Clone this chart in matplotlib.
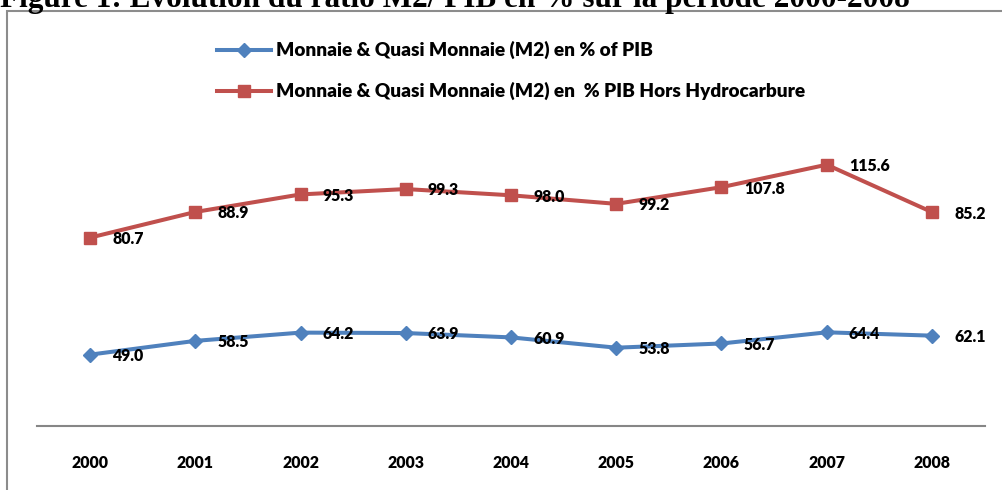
import matplotlib
matplotlib.use("Agg")
import matplotlib.pyplot as plt
import numpy as np
from matplotlib.patches import Rectangle

years = ["2000", "2001", "2002", "2003", "2004", "2005", "2006", "2007", "2008"]
m2_pib = [49.0, 58.5, 64.2, 63.9, 60.9, 53.8, 56.7, 64.4, 62.1]
m2_pib_hh = [80.7, 88.9, 95.3, 99.3, 98.0, 99.2, 107.8, 115.6, 85.2]

label_blue = "Monnaie & Quasi Monnaie (M2) en % of PIB"
label_red = "Monnaie & Quasi Monnaie (M2) en  % PIB Hors Hydrocarbure"
title = "Figure 1: Evolution du ratio M2/ PIB en % sur la période 2000-2008"

BLUE = "#4F81BD"
RED = "#C0504D"
W, H = 1003, 490

fig = plt.figure(figsize=(W / 100, H / 100), dpi=100)

# chart frame, cropped on the right and bottom like the source
fig.patches.append(Rectangle((7.5 / W, -0.2), 1.2, 1.2 - 11 / H, transform=fig.transFigure,
                             fill=False, edgecolor="#8c8c8c", linewidth=1.5, clip_on=False))

# title, mostly cut off at the top edge
fig.text(0.0, 1 - 7 / H, title, family="Liberation Serif", fontweight="bold",
         fontsize=22.5, va="baseline", ha="left")

ax = fig.add_axes([37.4 / W, (H - 425.7) / H, 947.2 / W, 290 / H])
x = np.arange(len(years))
# stacked line chart: the red series sits on top of the blue one
stacked = np.array(m2_pib) + np.array(m2_pib_hh)

ax.plot(x, m2_pib, color=BLUE, lw=2.9, marker="D", ms=7, label=label_blue)
ax.plot(x, stacked, color=RED, lw=2.9, marker="s", ms=8.4, label=label_red)

lab_font = {"family": "Lato", "fontweight": "heavy", "fontsize": 11.4}
for xi, yi, v in zip(x, m2_pib, m2_pib):
    ax.annotate(f"{v:.1f}", (xi, yi), xytext=(16, -1), textcoords="offset points",
                ha="left", va="center", **lab_font)
for xi, yi, v in zip(x, stacked, m2_pib_hh):
    ax.annotate(f"{v:.1f}", (xi, yi), xytext=(16, -1), textcoords="offset points",
                ha="left", va="center", **lab_font)

ax.set_xlim(-0.5, len(years) - 0.5)
ax.set_ylim(0, 200)
ax.set_xticks(x)
ax.set_xticklabels(years, **lab_font)
ax.tick_params(axis="x", length=0, pad=21)
ax.set_yticks([])
for s in ["top", "left", "right"]:
    ax.spines[s].set_visible(False)
ax.spines["bottom"].set_color("#868686")
ax.spines["bottom"].set_linewidth(1.5)
ax.patch.set_alpha(0)

leg = fig.legend(loc="upper left", bbox_to_anchor=(200 / W, 1 - 24 / H), frameon=False,
                 prop={"family": "Lato", "weight": "heavy", "size": 13.7},
                 handlelength=2.85, handletextpad=0.26, labelspacing=1.2)

fig.savefig("out.png", dpi=100)
